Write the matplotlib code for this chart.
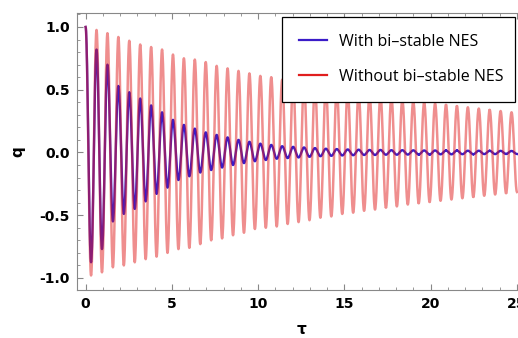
import numpy as np
import matplotlib
matplotlib.use("Agg")
import matplotlib.pyplot as plt
from matplotlib.lines import Line2D
from matplotlib.ticker import MultipleLocator

# period of the oscillation
PERIOD = 0.633

# peak (maximum) value of each cycle, cycle k sits at tau = k*PERIOD
red_peaks = [1.0, 0.976, 0.95, 0.92, 0.89, 0.86, 0.84, 0.82, 0.78, 0.75,
             0.74, 0.72, 0.69, 0.67, 0.65, 0.63, 0.61, 0.60, 0.58, 0.56,
             0.55, 0.53, 0.52, 0.50, 0.49, 0.47, 0.46, 0.45, 0.44, 0.42,
             0.41, 0.40, 0.39, 0.38, 0.37, 0.36, 0.35, 0.34, 0.33, 0.32]
# trough (minimum) value of each cycle, at tau = (k+0.5)*PERIOD
red_troughs = [-0.98, -0.955, -0.915, -0.90, -0.875, -0.85, -0.83, -0.80, -0.77, -0.76,
               -0.73, -0.70, -0.685, -0.66, -0.64, -0.61, -0.60, -0.59, -0.57, -0.555,
               -0.54, -0.52, -0.51, -0.49, -0.48, -0.465, -0.455, -0.44, -0.43, -0.415,
               -0.405, -0.395, -0.385, -0.375, -0.365, -0.355, -0.345, -0.335, -0.325, -0.315]

blue_peaks = [1.0, 0.82, 0.70, 0.53, 0.48, 0.43, 0.375, 0.32, 0.26, 0.22,
              0.19, 0.16, 0.14, 0.12, 0.10, 0.085, 0.07, 0.06, 0.05, 0.045,
              0.04, 0.035, 0.03, 0.027, 0.024, 0.022, 0.02, 0.02, 0.018, 0.018,
              0.017, 0.016, 0.016, 0.015, 0.015, 0.014, 0.014, 0.013, 0.013, 0.012]
blue_troughs = [-0.875, -0.77, -0.55, -0.49, -0.45, -0.39, -0.33, -0.28, -0.22, -0.19,
                -0.16, -0.14, -0.12, -0.10, -0.085, -0.07, -0.06, -0.05, -0.045, -0.04,
                -0.035, -0.03, -0.027, -0.024, -0.022, -0.02, -0.02, -0.018, -0.018, -0.017,
                -0.016, -0.016, -0.015, -0.015, -0.014, -0.014, -0.013, -0.013, -0.012, -0.012]

legend_labels = ["With bi\u2013stable NES", "Without bi\u2013stable NES"]


def trace(peaks, troughs):
    # join the read extrema with half cosine waves
    ext = []
    for p, t in zip(peaks, troughs):
        ext += [p, t]
    half = PERIOD / 2
    ts, qs = [], []
    for j in range(len(ext) - 1):
        s = np.linspace(0, 1, 24)
        ts.append(j * half + s * half)
        qs.append((ext[j] + ext[j + 1]) / 2 + (ext[j] - ext[j + 1]) / 2 * np.cos(np.pi * s))
    return np.concatenate(ts), np.concatenate(qs)


tb, qb = trace(blue_peaks, blue_troughs)
tr, qr = trace(red_peaks, red_troughs)

blue = "#3a1cc8"
red = "#e01e1e"

fig = plt.figure(figsize=(5.18, 3.38), dpi=100)
ax = fig.add_axes([0.1486, 0.142, 0.866, 0.8187])

ax.plot(tb, qb, color=blue, lw=1.7)
ax.plot(tr, qr, color=red, lw=1.8, alpha=0.5)

ax.set_xlim(-0.5, 25.5)
ax.set_ylim(-1.096, 1.109)
ax.xaxis.set_major_locator(MultipleLocator(5))
ax.xaxis.set_minor_locator(MultipleLocator(1))
ax.yaxis.set_major_locator(MultipleLocator(0.5))
ax.yaxis.set_minor_locator(MultipleLocator(0.1))
ax.tick_params(which="both", direction="in", top=True, right=True, color="#888888")
ax.tick_params(which="major", length=4, width=0.8, pad=5)
ax.tick_params(which="minor", length=2, width=0.6)
for s in ax.spines.values():
    s.set_color("#888888")
    s.set_linewidth(0.8)
for lab in ax.get_xticklabels() + ax.get_yticklabels():
    lab.set_fontweight("bold")
    lab.set_fontsize(10)
ax.yaxis.set_major_formatter(matplotlib.ticker.FormatStrFormatter("%.1f"))

ax.set_xlabel("\u03c4", fontsize=11, fontweight="bold", labelpad=8)
ax.set_ylabel("q", fontsize=11, fontweight="bold", labelpad=10)

handles = [Line2D([], [], color=blue, lw=1.6), Line2D([], [], color=red, lw=1.6)]
leg = ax.legend(handles, legend_labels, loc="upper left",
                bbox_to_anchor=(0.4566, 0.5, 0.519, 0.4866), mode="expand",
                borderaxespad=0, fancybox=False, framealpha=1, edgecolor="black",
                prop={"family": "Open Sans", "size": 11.5},
                handlelength=1.8, handletextpad=0.7, labelspacing=1.2, borderpad=1.05)
leg.get_frame().set_linewidth(0.9)

fig.savefig("out.png", dpi=100)
